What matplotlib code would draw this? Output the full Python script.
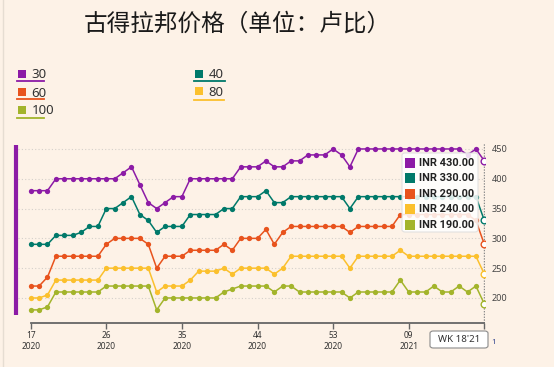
import matplotlib.pyplot as plt
from matplotlib.lines import Line2D
from matplotlib.patches import FancyBboxPatch
import numpy as np

# weekly prices, wk 17 2020 .. wk 18 2021
title = '古得拉邦价格（单位：卢比）'
series_names = ['30', '40', '60', '80', '100']
colors = ['#8c1ba6', '#00796a', '#e8531d', '#fbc02d', '#a3b42b']

price_30 = [380, 380, 380, 400, 400, 400, 400, 400, 400, 400, 400, 410, 420, 390, 360,
            350, 360, 370, 370, 400, 400, 400, 400, 400, 400, 420, 420, 420, 430, 420,
            420, 430, 430, 440, 440, 440, 450, 440, 420, 450, 450, 450, 450, 450, 450,
            450, 450, 450, 450, 450, 450, 450, 440, 450, 430]
price_40 = [290, 290, 290, 305, 305, 305, 310, 320, 320, 350, 350, 360, 370, 340, 330,
            310, 320, 320, 320, 340, 340, 340, 340, 350, 350, 370, 370, 370, 380, 360,
            360, 370, 370, 370, 370, 370, 370, 370, 350, 370, 370, 370, 370, 370, 370,
            370, 370, 370, 370, 370, 370, 370, 370, 370, 330]
price_60 = [220, 220, 235, 270, 270, 270, 270, 270, 270, 290, 300, 300, 300, 300, 290,
            250, 270, 270, 270, 280, 280, 280, 280, 290, 280, 300, 300, 300, 315, 290,
            310, 320, 320, 320, 320, 320, 320, 320, 310, 320, 320, 320, 320, 320, 340,
            340, 340, 340, 340, 340, 340, 340, 340, 330, 290]
price_80 = [200, 200, 205, 230, 230, 230, 230, 230, 230, 250, 250, 250, 250, 250, 250,
            210, 220, 220, 220, 230, 245, 245, 245, 250, 240, 250, 250, 250, 250, 240,
            250, 270, 270, 270, 270, 270, 270, 270, 250, 270, 270, 270, 270, 270, 280,
            270, 270, 270, 270, 270, 270, 270, 270, 270, 240]
price_100 = [180, 180, 185, 210, 210, 210, 210, 210, 210, 220, 220, 220, 220, 220, 220,
             180, 200, 200, 200, 200, 200, 200, 200, 210, 215, 220, 220, 220, 220, 210,
             220, 220, 210, 210, 210, 210, 210, 210, 200, 210, 210, 210, 210, 210, 230,
             210, 210, 210, 220, 210, 210, 220, 210, 220, 190]

tick_idx = [0, 9, 18, 27, 36, 45]
tick_weeks = ['17', '26', '35', '44', '53', '09']
tick_years = ['2020', '2020', '2020', '2020', '2020', '2021']
hover_label = "WK 18'21"

W, H = 554, 367
bg = '#fdf2e7'

def fx(x):
    return x / W

def fy(y):
    return 1 - y / H

fig = plt.figure(figsize=(W / 100, H / 100), dpi=100, facecolor=bg)

# main axes, placed in pixel terms
ax = fig.add_axes([fx(18), fy(323), 467 / W, 180 / H])
ax.set_facecolor('none')
all_series = [price_30, price_40, price_60, price_80, price_100]
x = np.arange(len(price_30))
for vals, c in zip(all_series, colors):
    ax.plot(x, vals, '-o', color=c, lw=1.1, ms=3.8, mew=0, zorder=3)
    ax.plot(x[-1], vals[-1], 'o', mfc='white', mec=c, ms=4.8, mew=1.0, zorder=4)

ax.set_xlim(-1.51, 54.08)
ax.set_ylim(158, 460)
for s in ['top', 'left', 'right']:
    ax.spines[s].set_visible(False)
ax.spines['bottom'].set_bounds(0, 54)
ax.spines['bottom'].set_color('#666666')
ax.spines['bottom'].set_linewidth(1.3)

ax.set_yticks([200, 250, 300, 350, 400, 450])
ax.yaxis.tick_right()
ax.tick_params(axis='y', length=0, pad=5, labelsize=6.5, labelcolor='#444444')
ax.grid(axis='y', color='#d4d0cb', linestyle=(0, (1, 2)), linewidth=0.8)

ax.set_xticks(tick_idx + [54])
ax.set_xticklabels([w + '\n' + y for w, y in zip(tick_weeks, tick_years)] + [''],
                   linespacing=1.3)
ax.tick_params(axis='x', length=4, width=1, color='#666666', pad=1.5,
               labelsize=6, labelcolor='#333333')
for lab in ax.get_xticklabels() + ax.get_yticklabels():
    lab.set_family('Noto Sans')

ax.axvline(54, color='#8a8a8a', linestyle=(0, (1, 1)), lw=1.0, zorder=2)

# hover tooltip legend
fig.add_artist(FancyBboxPatch((fx(402), fy(232)), 76 / W, 79 / H,
                              boxstyle='round,pad=0,rounding_size=0.006',
                              transform=fig.transFigure, fc='white', ec='#dddddd',
                              lw=0.8, alpha=0.85, zorder=5))
for k, (vals, c) in enumerate(zip(all_series, colors)):
    yy = 162.7 + 15.5 * k
    fig.add_artist(Line2D([fx(409.7)], [fy(yy)], marker='s', ms=6.8, mew=0,
                          color=c, transform=fig.transFigure, zorder=6))
    fig.text(fx(419), fy(yy), 'INR %.2f' % vals[-1], family='Roboto',
             weight='bold', fontsize=7.9, color='#222222', va='center', zorder=6)

# week box under the hover line
fig.add_artist(FancyBboxPatch((fx(430), fy(348)), 58 / W, 17 / H,
                              boxstyle='round,pad=0,rounding_size=0.006',
                              transform=fig.transFigure, fc='white', ec='#8a8a8a',
                              lw=0.8, zorder=5))
fig.text(fx(459), fy(340), hover_label, family='Noto Sans', fontsize=7,
         color='#333333', ha='center', va='center', zorder=6)
fig.text(fx(491), fy(343), '1', family='Noto Sans', fontsize=5.5,
         color='#2b3f8c', ha='left', va='center')

# purple highlight bar and left border
fig.add_artist(Line2D([fx(16), fx(16)], [fy(145), fy(315)], color=colors[0],
                      lw=3, solid_capstyle='butt'))
fig.add_artist(Line2D([fx(3), fx(3)], [0, 1], color='#e6ddd2', lw=1))

# title
fig.text(fx(237), fy(24), title, family=['Noto Sans CJK SC', 'DejaVu Sans'],
         fontsize=17, color='#1a1a1a', ha='center', va='center')

# top legend
leg_pos = [(22, 73.5), (199, 73.5), (22, 91.5), (199, 91), (22, 109.5)]
leg_line = [(17, 44, 81), (194, 225, 81.3), (17, 44, 99.3), (194, 224, 99.7),
            (17, 44, 117.7)]
for name, c, (mx, my), (x0, x1, ly) in zip(series_names, colors, leg_pos, leg_line):
    fig.add_artist(Line2D([fx(mx)], [fy(my)], marker='s', ms=5.3, mew=0, color=c,
                          transform=fig.transFigure))
    fig.text(fx(mx + 9.5), fy(my + 1.5), name, family='Noto Sans', fontsize=9.5,
             color='#333333', va='center')
    fig.add_artist(Line2D([fx(x0), fx(x1)], [fy(ly), fy(ly)], color=c, lw=1.3))

fig.savefig('out.png', dpi=100, facecolor=bg)
